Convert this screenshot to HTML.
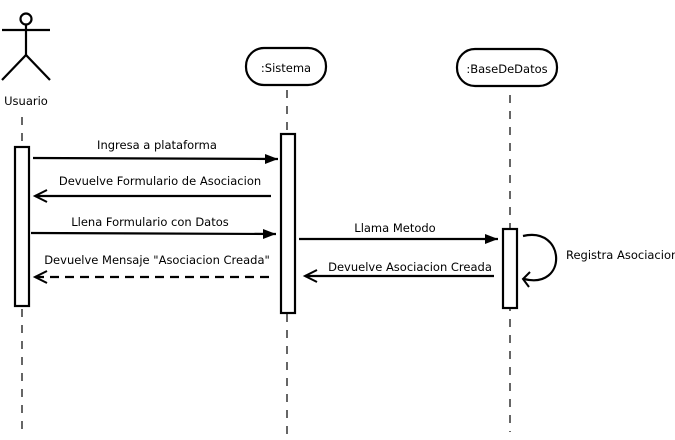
<!DOCTYPE html>
<html><head><meta charset="utf-8"><style>body{margin:0;background:#fff}svg{display:block}</style></head><body>
<svg width="675" height="440" viewBox="0 0 675 440" xmlns="http://www.w3.org/2000/svg">
<defs>
<marker id="f" markerWidth="16" markerHeight="14" refX="13" refY="6" orient="auto" markerUnits="userSpaceOnUse"><path d="M0,1 L13,6 L0,11 z" fill="#000"/></marker>
<marker id="o" markerWidth="16" markerHeight="16" refX="13" refY="7" orient="auto" markerUnits="userSpaceOnUse"><path d="M1,1 L13,7 L1,13" fill="none" stroke="#000" stroke-width="2"/></marker>
</defs>
<g stroke="#000" stroke-width="2.2" fill="none">
<circle cx="26" cy="19" r="5.5"/>
<line x1="2" y1="30" x2="50" y2="30"/>
<line x1="26" y1="25" x2="26" y2="55"/>
<path d="M2,80 L26,55 L50,80"/>
</g>
<g stroke="#000" stroke-width="1.2" stroke-dasharray="8,8">
<line x1="22" y1="117" x2="22" y2="430"/>
<line x1="287" y1="90" x2="287" y2="435"/>
<line x1="510" y1="95" x2="510" y2="432"/>
</g>
<rect x="246" y="48" width="80" height="37" rx="18" fill="#fff" stroke="#000" stroke-width="2.2"/>
<rect x="457" y="49" width="100" height="37" rx="18" fill="#fff" stroke="#000" stroke-width="2.2"/>
<g fill="#fff" stroke="#000" stroke-width="2.2">
<rect x="15" y="147" width="14" height="159"/>
<rect x="281" y="134" width="14" height="179"/>
<rect x="503" y="229" width="14" height="79"/>
</g>
<g stroke="#000" stroke-width="2.2" fill="none">
<line x1="33" y1="158" x2="278" y2="159" marker-end="url(#f)"/>
<line x1="271" y1="196" x2="35" y2="196" marker-end="url(#o)"/>
<line x1="31" y1="233" x2="276" y2="234" marker-end="url(#f)"/>
<line x1="269" y1="277" x2="35" y2="277" stroke-dasharray="9,6" marker-end="url(#o)"/>
<line x1="299" y1="239" x2="498" y2="239" marker-end="url(#f)"/>
<line x1="494" y1="276" x2="305" y2="276" marker-end="url(#o)"/>
<path d="M523,236 C566,226 568,290 524,279"/>
<path d="M530,272 L523,279 L529,287" stroke-width="2"/>
</g>
<g font-family="DejaVu Sans, Liberation Sans, sans-serif" fill="#000">
<text x="26" y="105" text-anchor="middle" style="font-size:11.5px">Usuario</text>
<text x="286" y="72" text-anchor="middle" style="font-size:11.5px">:Sistema</text>
<text x="507" y="73" text-anchor="middle" style="font-size:11.5px">:BaseDeDatos</text>
<text x="157" y="149" text-anchor="middle" style="font-size:11.5px">Ingresa a plataforma</text>
<text x="160" y="185" text-anchor="middle" style="font-size:11.5px">Devuelve Formulario de Asociacion</text>
<text x="150" y="226" text-anchor="middle" style="font-size:11.5px">Llena Formulario con Datos</text>
<text x="157" y="264" text-anchor="middle" style="font-size:11.5px">Devuelve Mensaje "Asociacion Creada"</text>
<text x="395" y="232" text-anchor="middle" style="font-size:11.5px">Llama Metodo</text>
<text x="410" y="271" text-anchor="middle" style="font-size:11.5px">Devuelve Asociacion Creada</text>
<text x="566" y="259" style="font-size:11.5px">Registra Asociacion</text>
</g>
</svg>
</body></html>
